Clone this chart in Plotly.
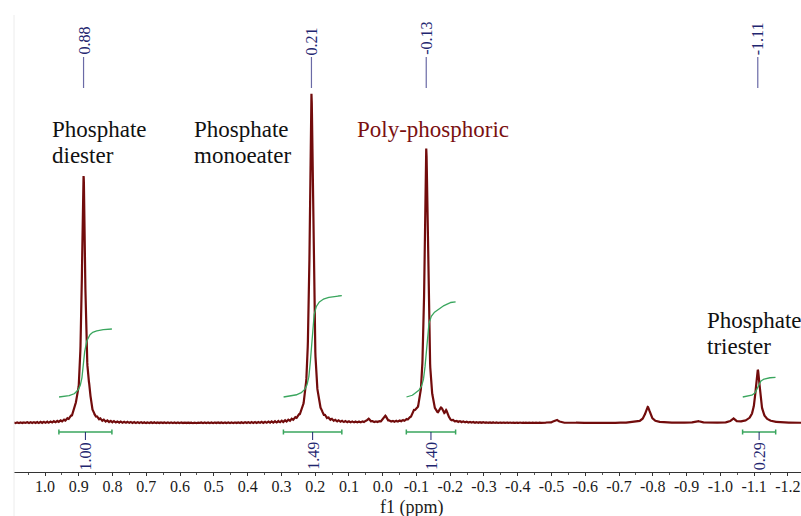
import numpy as np
import plotly.graph_objects as go

# ---------------- data ----------------
# Lorentzian peak table: chemical shift (ppm), height (a.u.), half width (ppm)
peak_ppm = [0.886, 0.869, 0.910, 0.211, -0.129, -0.173, -0.188, -0.092,
            -0.785, -1.111, 0.043, -0.007, -0.514, -0.932, -1.038]
peak_height = [245, 12, 5, 328, 273, 10, 8, 6,
               16, 53, 3, 6, 3, 2, 4]
peak_width = [0.006, 0.004, 0.006, 0.006, 0.006, 0.006, 0.006, 0.006,
              0.009, 0.008, 0.006, 0.006, 0.008, 0.008, 0.006]

# baseline ripple around the three main peaks
ripple_ppm = [0.886, 0.211, -0.129]
ripple_amp = [1.0, 1.2, 1.0]

# picked peak labels
label_ppm = [0.886, 0.211, -0.129, -1.111]
label_text = ["0.88", "0.21", "-0.13", "-1.11"]

# integrals
int_start = [0.959, 0.294, -0.070, -1.066]
int_end = [0.802, 0.121, -0.216, -1.164]
int_value = [1.00, 1.49, 1.40, 0.29]
int_text = ["1.00", "1.49", "1.40", "0.29"]

# axis ticks
tick_vals = [1.0, 0.9, 0.8, 0.7, 0.6, 0.5, 0.4, 0.3, 0.2, 0.1, 0.0,
             -0.1, -0.2, -0.3, -0.4, -0.5, -0.6, -0.7, -0.8, -0.9, -1.0, -1.1, -1.2]
tick_text = ["1.0", "0.9", "0.8", "0.7", "0.6", "0.5", "0.4", "0.3", "0.2", "0.1", "0.0",
             "-0.1", "-0.2", "-0.3", "-0.4", "-0.5", "-0.6", "-0.7", "-0.8", "-0.9", "-1.0", "-1.1", "-1.2"]

# ---------------- build spectrum ----------------
x = np.linspace(1.10, -1.25, 4701)
clean = np.zeros_like(x)
for p, h, w in zip(peak_ppm, peak_height, peak_width):
    clean += h / (1.0 + ((x - p) / w) ** 2)
ripple = np.zeros_like(x)
for p, a in zip(ripple_ppm, ripple_amp):
    ripple += a * np.exp(-np.abs(x - p) / 0.25) * np.cos(2 * np.pi * (x - p) / 0.0099)
spec = clean + ripple

W, H = 801, 516
ML, MR, MT, MB = 14, 0, 0, 44
plot_h = H - MT - MB
YMIN, YMAX = -49, 423  # one unit = one pixel


def py(pix):  # pixel row -> paper y
    return (H - MB - pix) / plot_h


def px(pix):  # pixel column -> paper x
    return (pix - ML) / (W - ML - MR)


SPEC_COLOR = "#720c0c"
INT_COLOR = "#3aa65e"
NAVY = "#1f2670"
LABEL_LINE = "#6a6aa6"
SERIF = "Liberation Serif, Times New Roman, serif"

fig = go.Figure()
fig.add_trace(go.Scatter(x=x, y=spec, mode="lines",
                         line=dict(color=SPEC_COLOR, width=2.2), hoverinfo="skip"))

# integral curves
INT_SCALE = 68.0
INT_BASE = 26.0
for s, e, v in zip(int_start, int_end, int_value):
    m = (x <= s) & (x >= e)
    seg = clean[m]
    cum = np.cumsum(seg)
    cum = (cum - cum[0]) / (cum[-1] - cum[0])
    fig.add_trace(go.Scatter(x=x[m], y=INT_BASE + v * INT_SCALE * cum, mode="lines",
                             line=dict(color=INT_COLOR, width=1.3), hoverinfo="skip"))

shapes = []
annotations = []

# integral bars + labels
BAR_Y = -9
for s, e, t in zip(int_start, int_end, int_text):
    c = (s + e) / 2
    shapes.append(dict(type="line", xref="x", yref="y", x0=s, x1=e, y0=BAR_Y, y1=BAR_Y,
                       line=dict(color=INT_COLOR, width=1.5)))
    for xe in (s, e):
        shapes.append(dict(type="line", xref="x", yref="y", x0=xe, x1=xe, y0=BAR_Y - 2.5, y1=BAR_Y + 2.5,
                           line=dict(color=INT_COLOR, width=1.5)))
    shapes.append(dict(type="line", xref="x", yref="y", x0=c, x1=c, y0=BAR_Y, y1=BAR_Y - 8,
                       line=dict(color=NAVY, width=1)))
    annotations.append(dict(x=c, y=BAR_Y - 8, xref="x", yref="y", text=t, textangle=-90,
                            showarrow=False, xanchor="center", yanchor="top",
                            font=dict(family=SERIF, size=16, color=NAVY)))

# peak pick labels at the top
for p, t in zip(label_ppm, label_text):
    shapes.append(dict(type="line", xref="x", yref="paper", x0=p, x1=p, y0=py(57), y1=py(88),
                       line=dict(color=LABEL_LINE, width=1.2)))
    annotations.append(dict(x=p, y=py(57), xref="x", yref="paper", text=t, textangle=-90,
                            showarrow=False, xanchor="center", yanchor="bottom",
                            font=dict(family=SERIF, size=16, color=NAVY)))

# assignment texts
texts = [
    ("Phosphate", 49.5, 129.3, "#111111"),
    ("diester", 49.5, 155.0, "#111111"),
    ("Phosphate", 191.5, 129.3, "#111111"),
    ("monoeater", 191.5, 155.0, "#111111"),
    ("Poly-phosphoric", 354.5, 129.3, "#7a1010"),
    ("Phosphate", 705.0, 320.9, "#111111"),
    ("triester", 705.0, 346.3, "#111111"),
]
for t, xx, yy, col in texts:
    annotations.append(dict(x=px(xx), y=py(yy), xref="paper", yref="paper", text=t,
                            showarrow=False, xanchor="left", yanchor="middle",
                            font=dict(family=SERIF, size=23, color=col)))

# axis title
annotations.append(dict(x=px(411), y=py(507.5), xref="paper", yref="paper", text="f1 (ppm)",
                        showarrow=False, xanchor="center", yanchor="middle",
                        font=dict(family=SERIF, size=18, color="#1a1a1a")))

# faint frame line at left
shapes.append(dict(type="line", xref="paper", yref="paper", x0=0, x1=0, y0=py(15), y1=py(516),
                   line=dict(color="#ececec", width=1)))

fig.update_layout(
    width=W, height=H,
    margin=dict(l=ML, r=MR, t=MT, b=MB),
    paper_bgcolor="white", plot_bgcolor="white",
    showlegend=False,
    shapes=shapes, annotations=annotations,
    xaxis=dict(range=[1.092, -1.239], showgrid=False, zeroline=False,
               showline=True, linecolor="#333333", linewidth=1,
               tickmode="array", tickvals=tick_vals, ticktext=tick_text,
               ticks="outside", ticklen=3, tickcolor="#333333",
               ticklabelstandoff=-3,
               tickfont=dict(family=SERIF, size=16, color="#1a1a1a"),
               minor=dict(tickmode="linear", tick0=0, dtick=0.05, ticks="outside",
                          ticklen=2, tickcolor="#555555")),
    yaxis=dict(range=[YMIN, YMAX], visible=False),
)

fig.write_html("out.html")
